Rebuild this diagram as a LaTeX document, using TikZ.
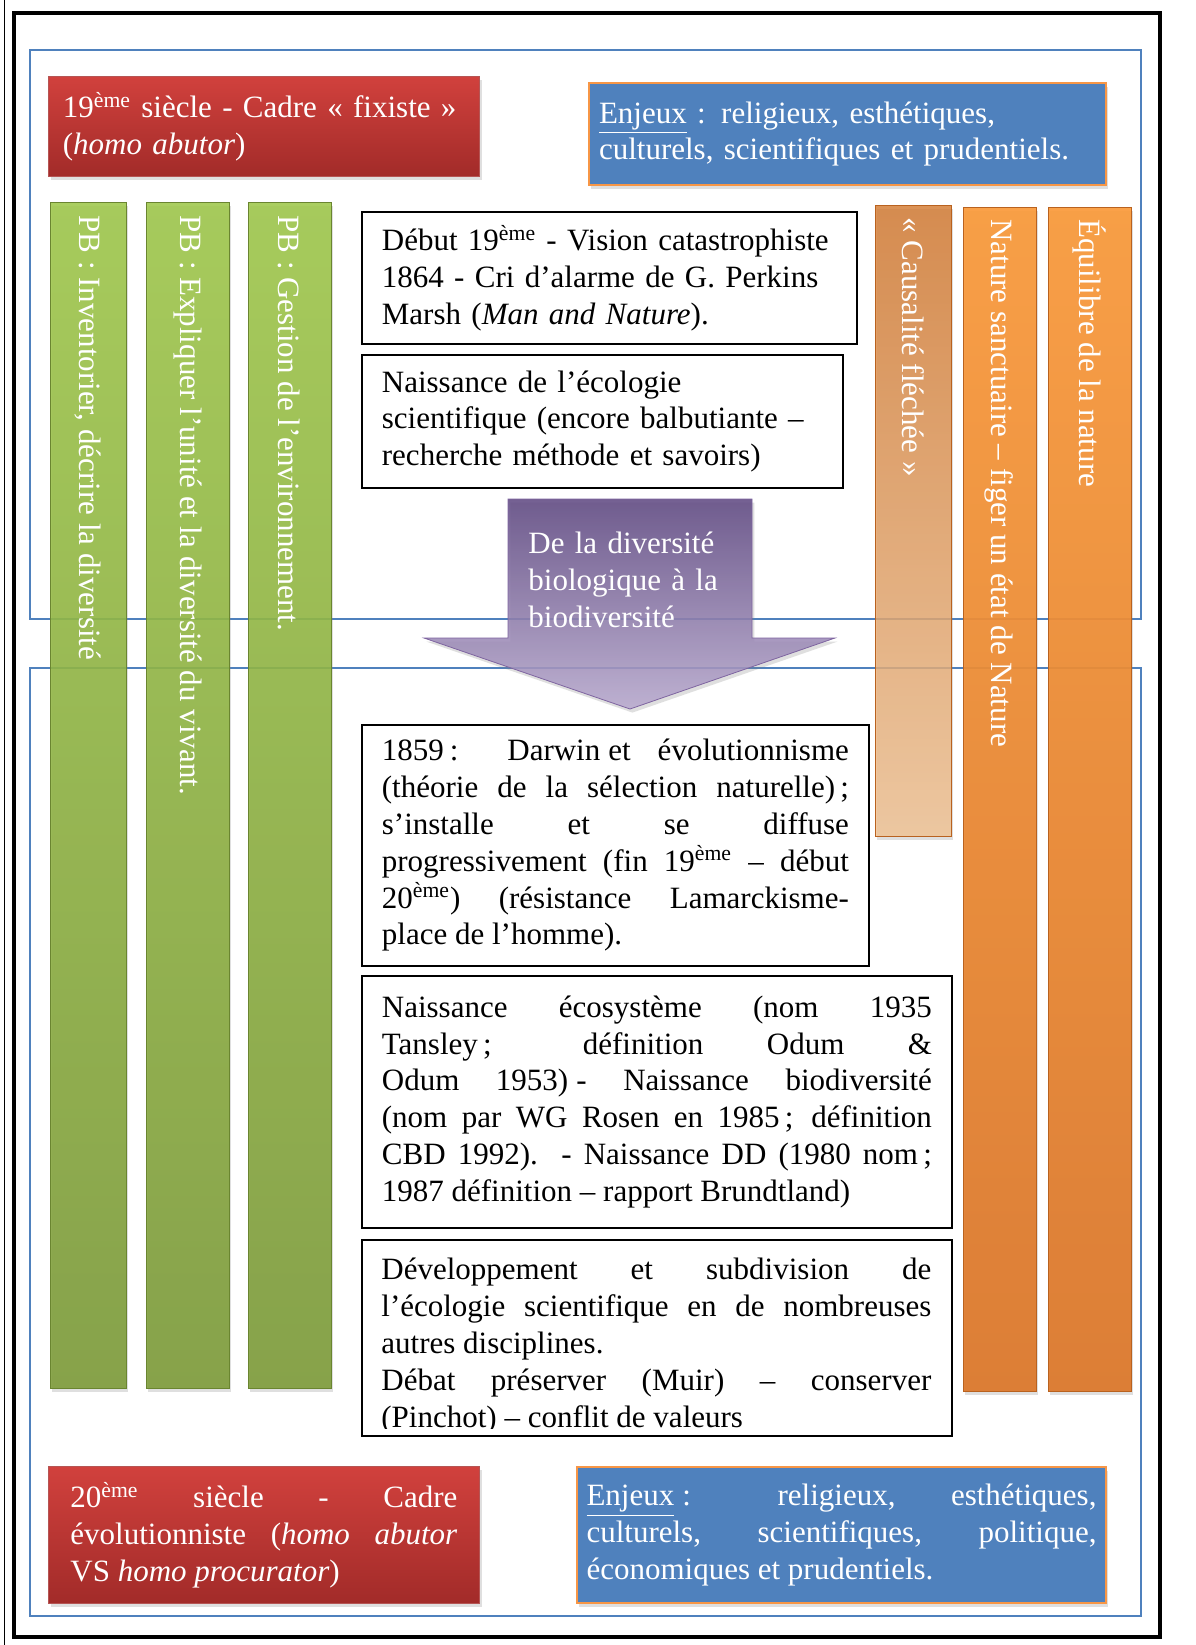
\documentclass[tikz,border=0pt]{standalone}
\usepackage{fontspec}
\setmainfont{Liberation Serif}
\usetikzlibrary{positioning,shadows}

\definecolor{framblue}{HTML}{4F81BD}
\definecolor{redtop}{HTML}{D1413D}
\definecolor{redbot}{HTML}{A22B29}
\definecolor{enjblue}{HTML}{4F81BD}
\definecolor{enjorange}{HTML}{F79646}
\definecolor{greentop}{HTML}{9FC84A}
\definecolor{greenbot}{HTML}{7B9A36}
\definecolor{greenedge}{HTML}{6A8530}
\definecolor{orangetop}{HTML}{FA9A3A}
\definecolor{orangebot}{HTML}{DC7628}
\definecolor{orangeedge}{HTML}{B9621F}
\definecolor{causaltop}{HTML}{D3772C}
\definecolor{causalbot}{HTML}{F0C191}
\definecolor{purpletop}{HTML}{5C4580}
\definecolor{purplebot}{HTML}{B8A9CF}
\definecolor{purpleedge}{HTML}{7E64A0}

\newcommand{\boxfont}{\fontsize{15.5}{18.4}\selectfont\tolerance=10000\hbadness=10000\hyphenpenalty=10000}

\tikzset{
    frame line/.style={draw=framblue, line width=0.7pt},
    soft shadow/.style={drop shadow={opacity=0.25, shadow xshift=1.2pt, shadow yshift=-1.8pt}},
    red title/.style={top color=redtop, bottom color=redbot, draw=redbot!80!white, soft shadow,
        text=white, font=\boxfont, anchor=north west, inner xsep=11pt, minimum width=215.5pt,
        text width=193.5pt},
    blue title/.style={fill=enjblue, draw=enjorange, line width=1pt, soft shadow,
        text=white, font=\boxfont, anchor=north west},
    green bar/.style={top color=greentop, bottom color=greenbot, draw=greenedge, fill opacity=0.88,
        soft shadow, anchor=north, minimum height=593pt, inner sep=0pt},
    orange bar/.style={top color=orangetop, bottom color=orangebot, draw=orangeedge, fill opacity=0.92,
        soft shadow, anchor=north, minimum height=592pt, inner sep=0pt},
    bar text/.style={rotate=-90, anchor=west, inner sep=0pt, text=white, font=\boxfont},
    text box/.style={draw=black, line width=0.9pt, fill=white, anchor=north west, font=\boxfont,
        inner xsep=10pt, inner ysep=0pt}
}

\begin{document}
\begin{tikzpicture}[x=0.5pt,y=-0.5pt,>=latex]
    \tikzstyle{big arrow}=[top color=purpletop, bottom color=purplebot, draw=purpleedge, fill opacity=0.85, soft shadow]
    \path[fill=white, use as bounding box] (0,0) rectangle (1195,1645);

    % page frames
    \draw[line width=0.5pt] (4,0) -- (4,1645);
    \draw[line width=2pt] (14,13) rectangle (1160,1637);
    \draw[frame line] (30,50) rectangle (1141,619);
    \draw[frame line] (30,668) rectangle (1141,1616);

    % 19eme siecle
    \node[red title, minimum height=50pt, text width=201pt, inner xsep=7.25pt, align=left] (cadre19) at (48,76)
        {19\textsuperscript{ème} siècle - Cadre «~fixiste~»\\(\textit{homo abutor})};
    \node[blue title, minimum width=258.5pt, minimum height=51pt, text width=248.5pt,
        inner xsep=5pt, align=left] (enjeux19) at (588,82)
        {\underline{Enjeux} : religieux, esthétiques,\\culturels, scientifiques et prudentiels.};

    % bars
    \node[green bar, minimum width=38pt] (pbinv) at (88,202) {};
    \node[green bar, minimum width=41.5pt] (pbexpl) at (187.5,202) {};
    \node[green bar, minimum width=41.5pt] (pbgest) at (289.5,202) {};
    \node[bar text] (pbinvtxt) at ([yshift=-6.5pt]pbinv.north) {PB : Inventorier, décrire la diversité};
    \node[bar text] (pbexpltxt) at ([yshift=-6.5pt]pbexpl.north) {PB : Expliquer l’unité et la diversité du vivant.};
    \node[bar text] (pbgesttxt) at ([yshift=-6.5pt]pbgest.north) {PB : Gestion de l’environnement.};

    \node[orange bar, top color=causaltop, bottom color=causalbot, fill opacity=0.8,
        minimum width=38pt, minimum height=315.5pt] (causal) at (913,205) {};
    \node[orange bar, minimum width=36.5pt] (sanct) at (999.5,207) {};
    \node[orange bar, minimum width=41.5pt] (equil) at (1089.5,207) {};
    \node[bar text] (causaltxt) at ([yshift=-6pt]causal.north) {«~Causalité fléchée~»};
    \node[bar text] (sancttxt) at ([yshift=-6pt]sanct.north) {Nature sanctuaire – figer un état de Nature};
    \node[bar text] (equiltxt) at ([yshift=-6pt]equil.north) {Équilibre de la nature};

    % text boxes, top
    \node[text box, minimum width=247.5pt, minimum height=66pt, text width=227.5pt, align=left] (debut) at (361,211)
        {Début 19\textsuperscript{ème} - Vision catastrophiste\\1864 - Cri d’alarme de G. Perkins\\Marsh (\textit{Man and Nature}).};
    \node[text box, minimum width=240.5pt, minimum height=66.5pt, text width=220.5pt, align=left] (naiss) at (361,354)
        {Naissance de l’écologie\\scientifique (encore balbutiante –\\recherche méthode et savoirs)};

    % big arrow
    \draw[big arrow] (508,499) -- (752,499) -- (752,638) -- (835,638) -- (630,709) -- (424,638) -- (508,638) -- cycle;
    \node[anchor=north west, inner sep=0pt, text width=115pt, align=left, text=white, font=\boxfont] (diversite) at (528,532)
        {De la diversité\\biologique à la\\biodiversité};

    % text boxes, bottom
    \node[text box, minimum width=253.5pt, minimum height=120.5pt, text width=233.5pt, align=justify] (darwin) at (361,724)
        {1859\hspace{3pt}: Darwin\hspace{4pt}et évolutionnisme\linebreak
         (théorie de la sélection naturelle)\,;\linebreak
         s’installe et se diffuse\linebreak
         progressivement (fin 19\textsuperscript{ème} – début\linebreak
         20\textsuperscript{ème}) (résistance Lamarckisme-\linebreak
         place de l’homme).};
    \node[text box, minimum width=295pt, minimum height=126pt, text width=275pt, align=justify] (ecosys) at (361,975)
        {Naissance écosystème (nom 1935\linebreak
         Tansley\,; définition Odum \&\linebreak
         Odum 1953)\hspace{4pt}- Naissance biodiversité\linebreak
         (nom par WG Rosen en 1985\,; définition\linebreak
         CBD 1992). - Naissance DD (1980 nom\,;\linebreak
         1987 définition – rapport Brundtland)};
    \node[text box, minimum width=295pt, minimum height=98pt] (devel) at (361,1239) {};
    \begin{scope}
        \clip (devel.north west) rectangle ([yshift=4pt]devel.south east);
        \node[anchor=north west, inner xsep=10pt, inner ysep=9.5pt, text width=275pt, align=justify, font=\boxfont] (develtxt) at (devel.north west)
            {Développement et subdivision de\linebreak
             l’écologie scientifique en de nombreuses\linebreak
             autres disciplines.\\
             Débat préserver (Muir) – conserver\linebreak
             (Pinchot) – conflit de valeurs};
    \end{scope}

    % 20eme siecle
    \node[red title, minimum height=68.5pt, align=justify] (cadre20) at (48,1466)
        {20\textsuperscript{ème} siècle - Cadre\linebreak
         évolutionniste (\textit{homo abutor}\linebreak
         VS \textit{homo procurator})};
    \node[blue title, minimum width=264.5pt, minimum height=68pt, text width=255pt,
        inner xsep=4.75pt, align=justify] (enjeux20) at (576,1466)
        {\underline{Enjeux}\hspace{4pt}: religieux, esthétiques,\linebreak
         culturels, scientifiques, politique,\linebreak
         économiques et prudentiels.};
\end{tikzpicture}
\end{document}
